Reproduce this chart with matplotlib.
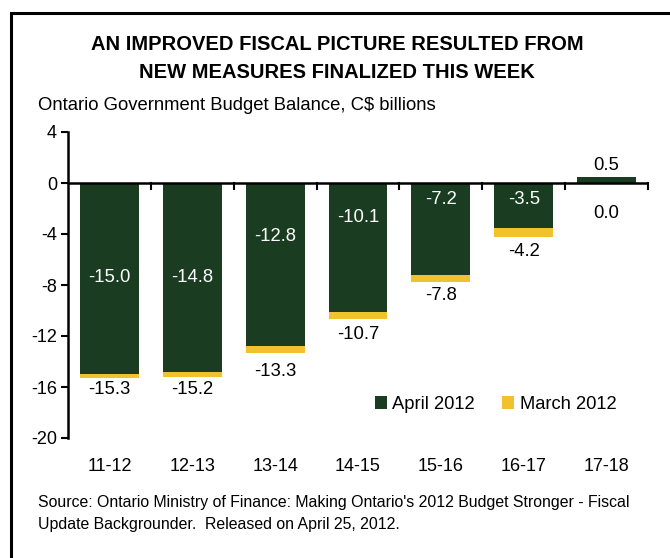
import matplotlib
matplotlib.use("Agg")
import matplotlib.pyplot as plt
from matplotlib.patches import Rectangle

plt.rcParams['font.family'] = ['Liberation Sans', 'DejaVu Sans']

categories = ["11-12", "12-13", "13-14", "14-15", "15-16", "16-17", "17-18"]
april_2012 = [-15.0, -14.8, -12.8, -10.1, -7.2, -3.5, 0.5]
march_2012 = [-15.3, -15.2, -13.3, -10.7, -7.8, -4.2, 0.0]
yticks = [4, 0, -4, -8, -12, -16, -20]

# label placement (layout only)
april_label_y = [-7.4, -7.4, -4.2, -2.7, -1.3, -1.3, 1.4]
march_label_y = [-16.2, -16.2, -14.8, -11.9, -8.8, -5.4, -2.4]

GREEN = "#1a3d22"
YELLOW = "#f2c12e"

fig = plt.figure(figsize=(6.7, 5.58), dpi=100)
ax = fig.add_axes([68/670, 1-438/558, (648-68)/670, (438-132)/558])

x = list(range(len(categories)))
ax.bar(x, march_2012, width=0.71, color=YELLOW, label="March 2012", zorder=2)
ax.bar(x, april_2012, width=0.71, color=GREEN, label="April 2012", zorder=3)

for i in x:
    a = april_2012[i]
    ax.text(i, april_label_y[i], f"{a:.1f}", ha='center', va='center',
            fontsize=13.3, color='white' if a < 0 else 'black', zorder=5)
    ax.text(i, march_label_y[i], f"{march_2012[i]:.1f}", ha='center', va='center',
            fontsize=13.3, color='black', zorder=5)

ax.set_ylim(-20, 4)
ax.set_xlim(-0.5, len(categories) - 0.5)
ax.set_yticks(yticks)
ax.set_yticklabels([str(t) for t in yticks], fontsize=13)
ax.tick_params(axis='y', direction='out', length=5, width=1.5, pad=3)

ax.set_xticks([])
for s in ['top', 'right', 'bottom']:
    ax.spines[s].set_visible(False)
ax.spines['left'].set_linewidth(1.8)
ax.axhline(0, color='black', lw=1.8, zorder=4)
for b in [i + 0.5 for i in x]:
    ax.plot([b, b], [0, -0.45], color='black', lw=1.5, zorder=4, clip_on=False)
for i, c in enumerate(categories):
    ax.text(i, -22.2, c, ha='center', va='center', fontsize=13)

h, l = ax.get_legend_handles_labels()
leg = ax.legend(h[::-1], l[::-1], loc='center', bbox_to_anchor=(0.737, 0.11),
                ncol=2, frameon=False, fontsize=13.2, handlelength=0.65,
                handleheight=0.65, handletextpad=0.3, columnspacing=1.5)

fig.text(337/670, 1-45/558, "AN IMPROVED FISCAL PICTURE RESULTED FROM",
         ha='center', va='center', fontsize=14.5, fontweight='bold')
fig.text(337/670, 1-72/558, "NEW MEASURES FINALIZED THIS WEEK",
         ha='center', va='center', fontsize=14.5, fontweight='bold')
fig.text(38/670, 1-105/558, "Ontario Government Budget Balance, C$ billions",
         ha='left', va='center', fontsize=13.3)
fig.text(38/670, 1-502/558,
         "Source: Ontario Ministry of Finance: Making Ontario's 2012 Budget Stronger - Fiscal",
         ha='left', va='center', fontsize=11.4)
fig.text(38/670, 1-524/558,
         "Update Backgrounder.  Released on April 25, 2012.",
         ha='left', va='center', fontsize=11.4)

fig.patches.append(Rectangle((11/670, -0.1), 1.2, 1 - 13/558 + 0.1,
                             transform=fig.transFigure, fill=False,
                             edgecolor='black', lw=2.2))

fig.savefig("out.png", dpi=100)
